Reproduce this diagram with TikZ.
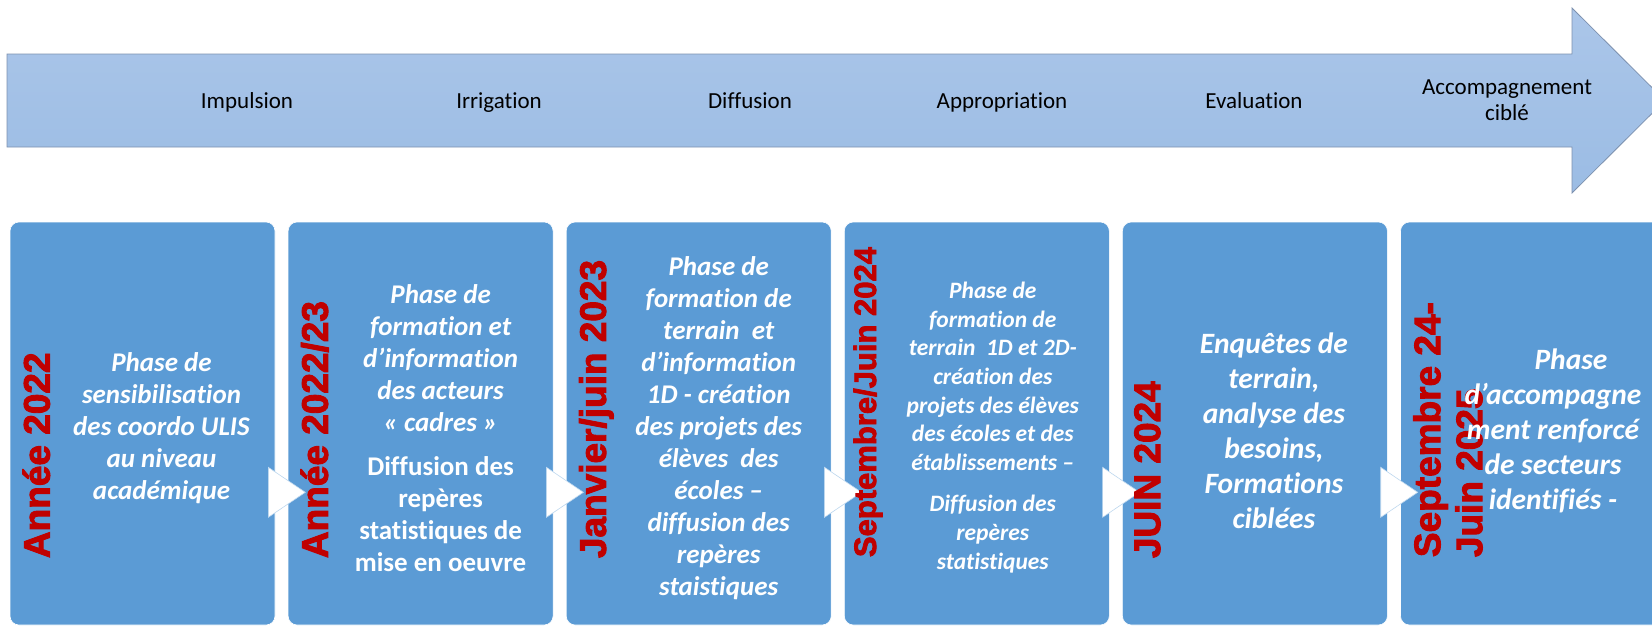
\documentclass[tikz,border=0pt]{standalone}
\usepackage{fontspec}
\setmainfont{Carlito}[Ligatures=NoCommon]
\newfontfamily\datefont{Liberation Sans Bold}[FakeBold=2.5]
\usetikzlibrary{calc,positioning}
\definecolor{boxblue}{RGB}{91,155,213}
\definecolor{datered}{RGB}{192,0,0}
\definecolor{arrowtop}{RGB}{171,198,233}
\definecolor{arrowbot}{RGB}{155,188,228}
\definecolor{arrowline}{RGB}{125,145,175}
\def\datesize#1{\datefont\fontsize{#1}{42}\selectfont}
\tikzset{
	phasebox/.style={fill=boxblue, draw=white, line width=0.6pt, rounded corners=9pt,
		minimum width=265pt, minimum height=403pt, inner sep=0pt},
	datelbl/.style={rotate=90, anchor=base west, inner sep=0pt, text=datered, font=\datesize{37}},
	phasetxt/.style={text=white, align=center, inner sep=0pt,
		font=\bfseries\itshape\fontsize{27}{32}\selectfont},
	steplbl/.style={font=\fontsize{23}{26}\selectfont, align=center, inner sep=0pt},
	chevron/.style={fill=white, draw=white!60!boxblue, line width=0.6pt}
}

\begin{document}
\begin{tikzpicture}[x=1pt, y=-1pt]
		%%%%% START %%%%%
		\useasboundingbox (0,0) rectangle (1652,627);
		
		% big arrow
		\draw[arrowline, line width=0.8pt, top color=arrowtop, bottom color=arrowbot]
			(7,54) -- (1572,54) -- (1572,8) -- (1665,100.5) -- (1572,193) -- (1572,147) -- (7,147) -- cycle;
		\foreach \x/\lbl [count=\i] in {247/Impulsion, 499/Irrigation, 750/Diffusion,
				1002/Appropriation, 1254/Evaluation}
			\node[steplbl, anchor=base] (s\i) at (\x,108) {\lbl};
		\node[steplbl] (s6) at (1507,100.5) {Accompagnement\\ciblé};
		
		% phase boxes
		\node[phasebox] (b1) at (142.5,423.5) {};
		\node[phasebox, right=12.5pt of b1] (b2) {};
		\node[phasebox, right=12.5pt of b2] (b3) {};
		\node[phasebox, right=12.5pt of b3] (b4) {};
		\node[phasebox, right=12.5pt of b4] (b5) {};
		\node[phasebox, right=12.5pt of b5] (b6) {};
		
		\foreach \i in {1,...,5}
			\draw[chevron] ($(b\i.south east)+(-7,-158)$) -- ++(37,25) -- ++(-37,25) -- cycle;
		
		% dates
		\node[datelbl] (d1) at ($(b1.south west)+(40,-67)$) {Année 2022};
		\node[datelbl] (d2) at ($(b2.south west)+(40,-67)$) {Année 2022/23};
		\node[datelbl] (d3) at ($(b3.south west)+(40,-67)$) {Janvier/juin 2023};
		\node[datelbl, font=\datesize{31}] (d4) at ($(b4.south west)+(32,-68)$) {Septembre/Juin 2024};
		\node[datelbl] (d5) at ($(b5.south west)+(38,-67)$) {JUIN 2024};
		\node[datelbl, anchor=north west, align=left] (d6) at ($(b6.south west)+(13,-68)$) {Septembre 24-\\Juin 2025};
		
		% phase texts
		\node[phasetxt] (t1) at ($(b1.center)+(19,5)$)
			{Phase de\\sensibilisation\\des coordo ULIS\\au niveau\\académique};
		\node[phasetxt] (t2) at ($(b2.center)+(20,5)$)
			{Phase de\\formation et\\d’information\\des acteurs\\« cadres »\\[12pt]
			\upshape Diffusion des\\\upshape repères\\\upshape statistiques de\\\upshape mise en oeuvre};
		\node[phasetxt] (t3) at ($(b3.center)+(20,5)$)
			{Phase de\\formation de\\terrain~ et\\d’information\\1D - création\\des projets des\\élèves~ des\\écoles –\\diffusion des\\repères\\staistiques};
		\node[phasetxt, font=\bfseries\itshape\fontsize{23.5}{28.6}\selectfont] (t4) at ($(b4.center)+(16,4)$)
			{Phase de\\formation de\\terrain~ 1D et 2D-\\création des\\projets des élèves\\des écoles et des\\établissements –\\[13pt]
			Diffusion des\\repères\\statistiques};
		\node[phasetxt, font=\bfseries\itshape\fontsize{29.5}{35}\selectfont] (t5) at ($(b5.center)+(19,7)$)
			{Enquêtes de\\terrain,\\analyse des\\besoins,\\Formations\\ciblées};
		\node[phasetxt, font=\bfseries\itshape\fontsize{29.5}{35}\selectfont] (t6) at ($(b6.center)+(20,7)$)
			{\hspace*{36pt}Phase\\d’accompagne\\ment renforcé\\de secteurs\\identifiés -};
		%%%%% END %%%%%
\end{tikzpicture}
\end{document}
